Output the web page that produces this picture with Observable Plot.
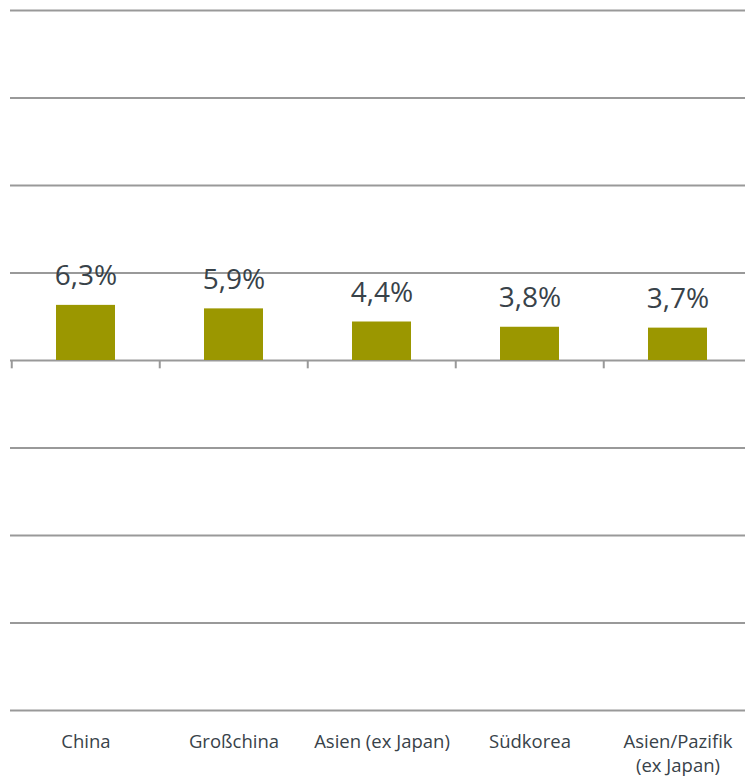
<!DOCTYPE html>
<html>
<head>
<meta charset="utf-8">
<script src="https://cdn.jsdelivr.net/npm/d3@7"></script>
<script src="https://cdn.jsdelivr.net/npm/@observablehq/plot@0.6"></script>
<style>
  html, body { margin: 0; padding: 0; background: #fff; }
  #chart svg { display: block; }
</style>
</head>
<body>
<div id="chart"></div>
<script>
const categories = ["China", "Großchina", "Asien (ex Japan)", "Südkorea", "Asien/Pazifik\n(ex Japan)"];
const values = [6.3, 5.9, 4.4, 3.8, 3.7];
const valueLabels = ["6,3%", "5,9%", "4,4%", "3,8%", "3,7%"];
const gridTicks = [-40, -30, -20, -10, 0, 10, 20, 30, 40];

const data = categories.map((c, i) => ({category: c, value: values[i], label: valueLabels[i]}));

const W = 745, H = 777;
const xRange = [10, 752.5];
const bandW = (xRange[1] - xRange[0]) / categories.length;
const font = "'Open Sans', 'Noto Sans', sans-serif";
const textColor = "#384249";

const chart = Plot.plot({
  width: W,
  height: H,
  marginLeft: 10,
  marginRight: 0,
  marginTop: 10,
  marginBottom: 67,
  style: {fontFamily: font, background: "#fff", overflow: "visible"},
  x: {domain: categories, range: xRange, paddingInner: 0.6, paddingOuter: 0.3, label: null},
  y: {domain: [-40, 40], label: null},
  marks: [
    Plot.ruleY(gridTicks, {stroke: "#999", strokeWidth: 2, strokeOpacity: 1}),
    Plot.ruleX(categories, {x: d => d, y1: 0, y2: -0.95, dx: -bandW / 2, stroke: "#999", strokeWidth: 2}),
    Plot.barY(data, {x: "category", y: "value", fill: "#9b9700"}),
    Plot.text(data, {x: "category", y: "value", text: "label", dy: -29, fontSize: 28, fill: textColor, textAnchor: "middle"}),
    Plot.axisX({tickSize: 0, tickPadding: 20, fontSize: 18.5, fill: textColor, lineHeight: 1.3, label: null}),
    Plot.axisY({ticks: []})
  ]
});
document.getElementById("chart").appendChild(chart);
</script>
</body>
</html>
